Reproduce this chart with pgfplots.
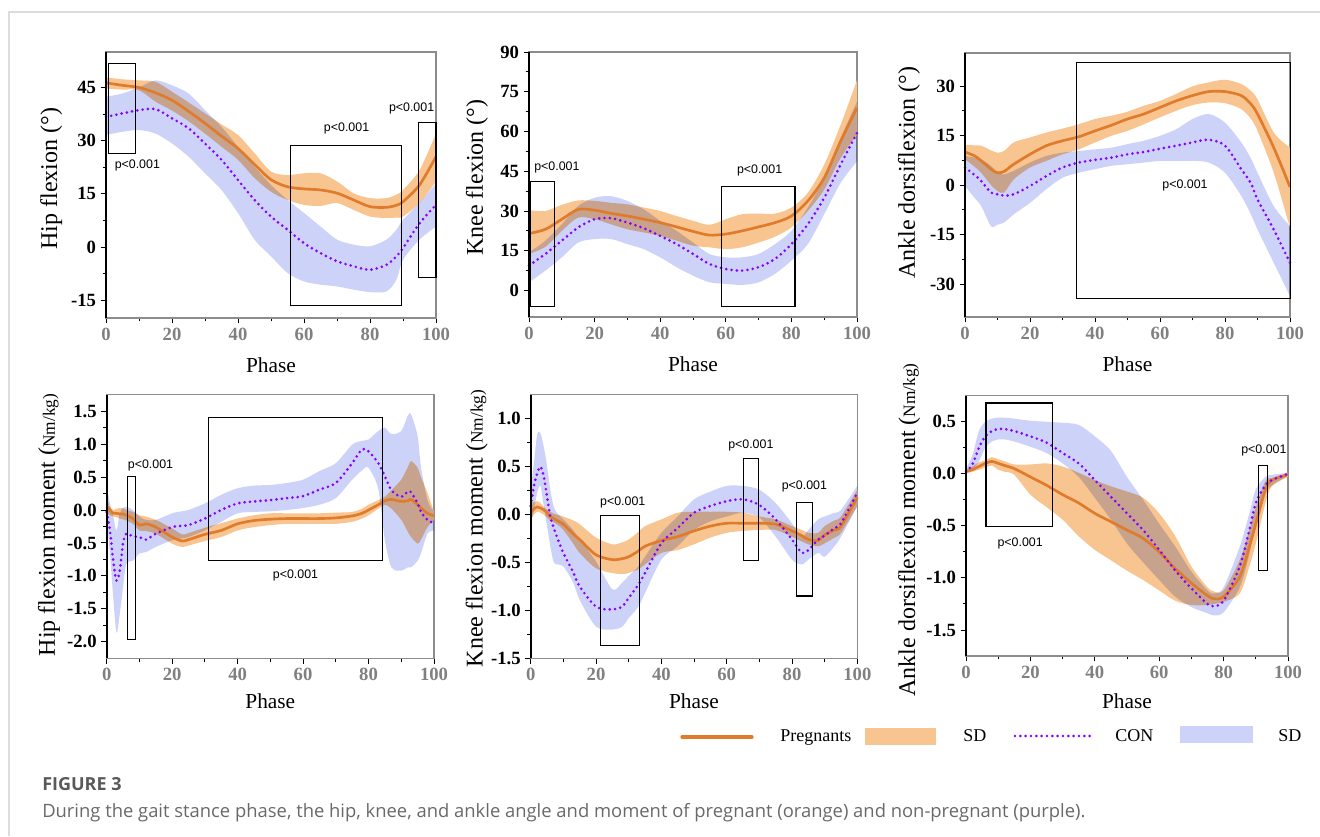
\documentclass[border=0pt]{standalone}
\usepackage{fontspec}
\setmainfont{Liberation Serif}
\newfontfamily\pfont{Liberation Sans}
\newfontfamily\capfont{Open Sans}
\usepackage{pgfplots}
\pgfplotsset{compat=1.18}
\usepackage{pgfplotstable}
\usepgfplotslibrary{fillbetween}

\definecolor{orline}{RGB}{224,123,44}
\definecolor{orband}{RGB}{248,197,145}
\definecolor{puline}{RGB}{136,0,255}
\definecolor{puband}{RGB}{205,210,249}
\definecolor{frame}{RGB}{140,140,140}
\definecolor{card}{RGB}{220,220,220}
\definecolor{captxt}{RGB}{105,105,105}

% columns: phase, pregnant mean/upper/lower, control mean/upper/lower
\pgfplotstableread{
x om ou ol pm pu pl
0 46.3 47.8 44.7 36.7 42.4 31.6
5 45.6 47.3 44.4 37.7 43.3 32.5
10 45.0 47.0 44.2 38.6 45.0 33.0
15 43.5 46.6 41.0 38.9 47.0 32.0
20 41.4 43.8 38.5 36.3 45.6 29.2
25 38.3 40.8 35.5 33.5 43.3 25.5
30 34.9 37.7 32.0 29.2 38.6 20.8
35 31.3 34.6 28.3 24.6 33.9 16.1
40 27.8 31.6 24.6 18.9 28.3 9.6
45 23.3 26.5 19.5 13.3 22.7 2.1
50 19.0 21.3 15.6 8.6 17.5 -2.6
55 17.0 20.3 13.3 4.9 13.3 -7.3
60 16.4 20.8 11.9 1.1 9.6 -9.7
65 16.1 20.8 11.6 -1.7 5.8 -10.6
70 15.2 18.5 12.4 -4.0 2.1 -11.1
75 13.3 15.2 10.5 -5.4 0.7 -12.0
80 11.4 13.8 8.6 -6.4 0.2 -12.7
85 11.2 13.8 8.2 -5.0 2.1 -12.5
88 11.8 14.8 8.3 -2.6 4.9 -9.2
90 12.8 16.1 8.6 -0.3 7.7 -3.6
95 17.5 21.7 12.4 6.7 12.4 2.1
100 25.5 32.0 18.5 11.9 18.0 5.8
}\hipang

\pgfplotstableread{
x om ou ol pm pu pl
0 21.5 30.3 13.8 9.4 14.4 3.1
5 23.1 30.0 16.5 13.8 18.8 7.5
10 26.9 32.3 22.5 18.8 25.0 12.5
15 30.6 34.0 27.5 23.8 31.9 18.1
20 30.3 33.8 26.9 26.9 35.0 19.4
25 29.1 33.1 25.0 27.3 35.6 19.4
30 28.1 32.5 23.1 25.6 33.8 17.5
35 26.9 31.3 21.9 23.5 30.6 15.6
40 25.6 30.0 20.6 20.6 26.3 12.5
45 24.0 28.1 18.8 17.5 22.5 8.8
50 22.3 26.3 16.9 13.8 18.1 5.6
55 20.9 24.8 16.3 10.0 13.8 3.1
60 21.3 26.9 15.6 8.1 12.5 2.5
65 22.5 28.8 16.3 7.5 12.5 2.1
70 24.0 29.0 18.1 8.8 13.8 3.1
75 25.6 29.0 20.3 11.9 17.5 6.3
80 28.1 31.3 23.8 17.5 22.5 11.3
85 33.8 36.9 30.0 25.0 31.3 17.5
90 42.5 47.5 38.1 35.0 42.5 28.8
95 56.3 62.5 50.0 47.5 57.5 40.6
100 69.0 79.4 58.8 59.4 71.3 48.8
}\kneeang

\pgfplotstableread{
x om ou ol pm pu pl
0 10.0 12.2 7.8 5.3 8.8 -0.3
3 8.8 12.0 5.5 3.0 8.3 -4.0
5 7.3 11.9 3.7 1.2 7.8 -6.4
8 4.8 10.5 0.0 -2.3 5.8 -12.5
10 3.7 9.8 -1.8 -2.8 3.7 -12.0
12 4.1 10.3 -2.3 -3.2 3.2 -11.4
15 6.3 12.9 1.7 -2.8 4.3 -8.9
20 9.3 14.4 5.3 -0.3 6.8 -5.4
25 11.9 15.9 7.3 2.7 8.8 -1.3
30 13.4 17.1 9.3 5.3 9.8 2.2
35 14.6 18.4 10.8 6.8 10.3 3.7
40 16.4 20.0 12.9 7.6 10.8 4.8
45 18.1 21.0 14.9 8.3 11.3 5.8
50 20.0 22.2 16.4 9.3 12.4 6.3
55 21.5 24.0 18.4 10.0 13.4 6.8
60 23.5 25.5 20.5 11.0 14.9 7.3
65 25.5 27.6 22.5 11.9 16.9 7.3
70 27.1 29.9 24.2 12.9 20.0 7.3
75 28.3 31.1 25.0 13.7 21.5 6.8
80 28.3 31.9 24.8 11.9 18.9 3.7
85 27.1 30.6 23.0 4.8 12.9 -3.3
88 24.5 28.5 20.0 0.5 8.0 -9.0
90 21.5 26.0 16.4 -4.4 3.7 -13.5
95 11.3 15.9 3.7 -13.5 -6.4 -23.6
100 -0.6 11.3 -13.0 -23.6 -12.5 -33.7
}\ankang

\pgfplotstableread{
x om ou ol pm pu pl
0 0.05 0.18 -0.05 -0.03 0.36 -0.15
1 0.00 0.05 -0.08 -0.31 0.10 -0.66
2 -0.05 0.00 -0.10 -0.77 -0.10 -1.33
3 -0.05 0.02 -0.11 -1.07 -0.31 -1.86
4 -0.06 0.03 -0.13 -0.92 -0.05 -1.58
5 -0.06 0.03 -0.14 -0.51 0.03 -1.17
6 -0.08 0.00 -0.16 -0.36 0.05 -0.82
8 -0.13 -0.03 -0.21 -0.40 0.00 -0.77
10 -0.23 -0.08 -0.31 -0.41 -0.10 -0.66
12 -0.21 -0.10 -0.32 -0.45 -0.15 -0.64
15 -0.26 -0.15 -0.36 -0.36 -0.15 -0.56
20 -0.41 -0.28 -0.51 -0.26 -0.05 -0.46
23 -0.47 -0.37 -0.56 -0.24 -0.02 -0.43
25 -0.45 -0.35 -0.54 -0.23 0.00 -0.41
30 -0.37 -0.27 -0.47 -0.13 0.10 -0.31
35 -0.31 -0.20 -0.41 0.00 0.23 -0.18
40 -0.21 -0.13 -0.31 0.10 0.33 -0.05
45 -0.16 -0.08 -0.26 0.13 0.37 -0.03
50 -0.14 -0.05 -0.23 0.15 0.38 -0.02
55 -0.13 -0.05 -0.21 0.18 0.41 0.00
60 -0.13 -0.05 -0.21 0.21 0.46 0.03
65 -0.13 -0.05 -0.21 0.31 0.59 0.08
70 -0.12 -0.04 -0.21 0.41 0.71 0.18
75 -0.09 -0.03 -0.18 0.71 0.99 0.46
78 -0.05 0.02 -0.13 0.92 1.05 0.60
80 0.00 0.08 -0.08 0.89 1.07 0.64
83 0.08 0.15 0.02 0.71 1.20 0.31
85 0.14 0.20 0.08 0.51 1.25 -0.46
87 0.16 0.30 0.02 0.30 1.15 -0.87
90 0.13 0.46 -0.15 0.20 1.20 -0.92
92 0.14 0.65 -0.33 0.28 1.43 -0.87
93 0.16 0.74 -0.41 0.27 1.45 -0.87
95 0.08 0.64 -0.51 0.10 1.12 -0.77
96 0.03 0.50 -0.45 -0.03 0.66 -0.66
98 -0.05 0.26 -0.26 -0.15 0.15 -0.36
100 -0.09 -0.03 -0.15 -0.20 -0.03 -0.31
}\hipmom

\pgfplotstableread{
x om ou ol pm pu pl
0 0.02 0.12 -0.05 0.09 0.26 -0.12
1 0.06 0.13 0.00 0.30 0.54 0.05
2 0.08 0.14 0.03 0.43 0.84 0.23
3 0.07 0.12 0.02 0.50 0.85 0.30
4 0.05 0.08 0.00 0.40 0.71 0.09
5 0.02 0.05 -0.03 0.19 0.51 -0.12
6 -0.02 0.03 -0.06 -0.02 0.26 -0.33
7 -0.04 0.01 -0.08 -0.13 0.09 -0.49
8 -0.06 0.00 -0.10 -0.23 0.02 -0.52
10 -0.10 -0.02 -0.16 -0.40 -0.05 -0.54
13 -0.20 -0.06 -0.30 -0.60 -0.16 -0.71
15 -0.26 -0.10 -0.40 -0.75 -0.26 -0.89
20 -0.42 -0.24 -0.56 -0.96 -0.49 -1.17
25 -0.47 -0.31 -0.61 -0.99 -0.78 -1.20
28 -0.46 -0.29 -0.62 -0.96 -0.71 -1.17
30 -0.44 -0.26 -0.61 -0.87 -0.64 -1.08
33 -0.38 -0.18 -0.57 -0.73 -0.54 -0.96
35 -0.33 -0.12 -0.52 -0.61 -0.44 -0.82
40 -0.27 -0.05 -0.40 -0.30 -0.19 -0.47
45 -0.23 0.02 -0.37 -0.14 -0.02 -0.33
50 -0.17 0.03 -0.31 0.02 0.16 -0.16
55 -0.12 0.03 -0.24 0.09 0.24 -0.07
60 -0.09 0.03 -0.19 0.14 0.30 -0.02
65 -0.09 0.02 -0.17 0.16 0.30 0.02
70 -0.09 -0.02 -0.16 0.10 0.26 -0.03
75 -0.10 -0.05 -0.16 -0.05 0.12 -0.23
80 -0.17 -0.12 -0.23 -0.26 -0.09 -0.47
83 -0.22 -0.16 -0.28 -0.40 -0.23 -0.52
85 -0.26 -0.19 -0.31 -0.37 -0.16 -0.47
88 -0.27 -0.19 -0.33 -0.26 -0.05 -0.40
90 -0.21 -0.12 -0.30 -0.22 -0.02 -0.44
93 -0.16 -0.06 -0.24 -0.14 0.02 -0.33
95 -0.12 -0.02 -0.19 -0.09 0.05 -0.23
100 0.18 0.26 0.09 0.23 0.30 0.09
}\kneemom

\pgfplotstableread{
x om ou ol pm pu pl
0 0.02 0.04 0.01 0.02 0.05 0.01
2 0.04 0.07 0.02 0.09 0.18 0.04
4 0.07 0.11 0.04 0.25 0.41 0.12
6 0.10 0.13 0.06 0.36 0.50 0.25
8 0.12 0.16 0.08 0.41 0.53 0.31
10 0.10 0.14 0.04 0.43 0.54 0.33
12 0.08 0.12 0.02 0.43 0.54 0.33
15 0.05 0.09 -0.01 0.41 0.53 0.31
20 -0.03 0.09 -0.20 0.36 0.51 0.26
25 -0.11 0.10 -0.32 0.30 0.50 0.20
30 -0.20 0.07 -0.44 0.20 0.49 0.10
35 -0.28 0.01 -0.60 0.10 0.47 -0.03
40 -0.38 -0.06 -0.73 -0.06 0.36 -0.23
45 -0.46 -0.12 -0.83 -0.22 0.22 -0.44
50 -0.54 -0.17 -0.93 -0.38 -0.03 -0.67
55 -0.62 -0.23 -1.02 -0.54 -0.25 -0.85
60 -0.75 -0.38 -1.12 -0.73 -0.48 -1.02
65 -0.91 -0.60 -1.22 -0.93 -0.70 -1.18
70 -1.05 -0.89 -1.26 -1.10 -0.94 -1.28
75 -1.17 -1.09 -1.26 -1.25 -1.12 -1.34
77 -1.20 -1.13 -1.25 -1.27 -1.15 -1.36
80 -1.18 -1.12 -1.23 -1.22 -1.09 -1.33
85 -0.99 -0.83 -1.15 -0.89 -0.70 -1.09
88 -0.70 -0.54 -0.89 -0.54 -0.38 -0.77
90 -0.48 -0.32 -0.67 -0.28 -0.15 -0.44
93 -0.15 -0.07 -0.28 -0.11 -0.03 -0.19
95 -0.06 -0.04 -0.12 -0.06 -0.01 -0.11
100 -0.01 0.01 -0.03 0.00 0.01 -0.02
}\ankmom

\pgfplotsset{
  panel/.style={
    scale only axis, clip=false, anchor=south west,
    xmin=0, xmax=100,
    xtick={0,20,40,60,80,100},
    xticklabels={0,20,40,60,80,100},
    minor x tick num=1, minor y tick num=1,
    tick align=outside, tick pos=left,
    major tick length=4pt, minor tick length=2.5pt,
    tick style={black, line width=0.7pt},
    axis line style={frame, line width=0.8pt},
    ticklabel style={font=\fontsize{14}{14}\selectfont\bfseries},
    xticklabel style={text=gray},
    xlabel={Phase},
    xlabel style={font=\fontsize{16}{16}\selectfont, at={(axis description cs:0.5,0)}, anchor=base},
    ylabel style={font=\fontsize{18}{18}\selectfont, anchor=base},
  },
}
\tikzset{pval/.style={font=\pfont\fontsize{9.3}{9.3}\selectfont, inner sep=0pt}}

\newcommand\drawpanel[1]{%
  \addplot[draw=none, smooth, name path=ou] table[x=x,y=ou]{#1};
  \addplot[draw=none, smooth, name path=ol] table[x=x,y=ol]{#1};
  \addplot[fill=orband, draw=none] fill between[of=ou and ol];
  \addplot[orline, line width=2pt, smooth] table[x=x,y=om]{#1};
  \addplot[draw=none, smooth, name path=pu] table[x=x,y=pu]{#1};
  \addplot[draw=none, smooth, name path=pl] table[x=x,y=pl]{#1};
  \addplot[fill=puband, draw=none, blend mode=multiply] fill between[of=pu and pl];
  \addplot[puline, line width=2.2pt, line cap=round, dash pattern=on 0pt off 4pt, smooth] table[x=x,y=pm]{#1};
  \draw[black, line width=1.6pt] (rel axis cs:0,0) -- (rel axis cs:0,1);
}
\newcommand\nm{{\fontsize{13}{13}\selectfont Nm/kg)}}

\begin{document}
\begin{tikzpicture}[x=0.75pt, y=0.75pt]
\draw[card, line width=1.1pt] (9,0) -- (9,824) -- (1320,824);

% ---- top row: angles
\begin{axis}[panel, at={(79.5pt,388.5pt)}, width=247.5pt, height=199.5pt,
  ymin=-20, ymax=55, ytick={-15,0,15,30,45}, yticklabels={-15,0,15,30,45},
  ylabel={Hip flexion (°)},
  ylabel style={at={(axis description cs:-0.148,0.524)}},
  xlabel style={yshift=-41.25pt}]
\drawpanel{\hipang}
\draw[line width=0.8pt] (axis cs:0.8,51.7) rectangle (axis cs:8.9,26.4);
\node[pval] at (axis cs:9.5,22.9) {p<0.001};
\draw[line width=0.8pt] (axis cs:56,28.6) rectangle (axis cs:89.6,-16.4);
\node[pval] at (axis cs:72.9,33.5) {p<0.001};
\draw[line width=0.8pt] (axis cs:94.7,35.1) rectangle (axis cs:100,-8.5);
\node[pval] at (axis cs:92.6,39.1) {p<0.001};
\end{axis}

\begin{axis}[panel, at={(396.75pt,389.25pt)}, width=246pt, height=198.75pt,
  ymin=-10, ymax=90, ytick={0,15,30,45,60,75,90}, yticklabels={0,15,30,45,60,75,90},
  ylabel={Knee flexion (°)},
  ylabel style={at={(axis description cs:-0.141,0.526)}},
  xlabel style={yshift=-41.25pt}]
\drawpanel{\kneeang}
\draw[line width=0.8pt] (axis cs:0.5,41.3) rectangle (axis cs:7.9,-5.9);
\node[pval] at (axis cs:8.5,46.3) {p<0.001};
\draw[line width=0.8pt] (axis cs:58.6,39.4) rectangle (axis cs:81.1,-5.9);
\node[pval] at (axis cs:70.3,45.3) {p<0.001};
\end{axis}

\begin{axis}[panel, at={(723.75pt,389.25pt)}, width=243.75pt, height=198pt,
  ymin=-40, ymax=40, ytick={-30,-15,0,15,30}, yticklabels={-30,-15,0,15,30},
  ylabel={Ankle dorsiflexion (°)},
  ylabel style={at={(axis description cs:-0.154,0.547)}},
  xlabel style={yshift=-41.25pt}]
\drawpanel{\ankang}
\draw[line width=0.8pt] (axis cs:34.4,37) rectangle (axis cs:100.2,-34.5);
\node[pval] at (axis cs:67.7,0) {p<0.001};
\end{axis}

% ---- bottom row: moments
\begin{axis}[panel, at={(80pt,133.3pt)}, width=245.5pt, height=197.7pt,
  ymin=-2.25, ymax=1.75, ytick={-2,-1.5,-1,-0.5,0,0.5,1,1.5},
  yticklabels={-2.0,-1.5,-1.0,-0.5,0.0,0.5,1.0,1.5},
  ylabel={Hip flexion moment (\nm},
  ylabel style={at={(axis description cs:-0.158,0.506)}},
  xlabel style={yshift=-37.5pt}]
\drawpanel{\hipmom}
\draw[line width=0.8pt] (axis cs:6.3,0.51) rectangle (axis cs:8.8,-1.96);
\node[pval] at (axis cs:13.4,0.67) {p<0.001};
\draw[line width=0.8pt] (axis cs:31.2,1.41) rectangle (axis cs:84.2,-0.77);
\node[pval] at (axis cs:57.7,-0.99) {p<0.001};
\end{axis}

\begin{axis}[panel, at={(398pt,133.3pt)}, width=245pt, height=197.5pt,
  ymin=-1.5, ymax=1.25, ytick={-1.5,-1,-0.5,0,0.5,1},
  yticklabels={-1.5,-1.0,-0.5,0.0,0.5,1.0},
  ylabel={Knee flexion moment (\nm},
  ylabel style={at={(axis description cs:-0.147,0.493)}},
  xlabel style={yshift=-37.5pt}]
\drawpanel{\kneemom}
\draw[line width=0.8pt] (axis cs:21.5,-0.01) rectangle (axis cs:33.2,-1.37);
\node[pval] at (axis cs:28.2,0.13) {p<0.001};
\draw[line width=0.8pt] (axis cs:65.2,0.59) rectangle (axis cs:69.7,-0.48);
\node[pval] at (axis cs:67.4,0.72) {p<0.001};
\draw[line width=0.8pt] (axis cs:81.3,0.13) rectangle (axis cs:86.2,-0.85);
\node[pval] at (axis cs:83.8,0.29) {p<0.001};
\end{axis}

\begin{axis}[panel, at={(724.5pt,135pt)}, width=241.5pt, height=195.2pt,
  ymin=-1.75, ymax=0.75, ytick={-1.5,-1,-0.5,0,0.5},
  yticklabels={-1.5,-1.0,-0.5,0.0,0.5},
  ylabel={Ankle dorsiflexion moment (\nm},
  ylabel style={at={(axis description cs:-0.158,0.484)}},
  xlabel style={yshift=-39pt}]
\drawpanel{\ankmom}
\draw[line width=0.8pt] (axis cs:6.2,0.68) rectangle (axis cs:26.9,-0.51);
\node[pval] at (axis cs:16.8,-0.67) {p<0.001};
\draw[line width=0.8pt] (axis cs:90.8,0.08) rectangle (axis cs:93.6,-0.93);
\node[pval] at (axis cs:92.5,0.22) {p<0.001};
\end{axis}

% ---- legend
\begin{scope}[every node/.style={font=\fontsize{13.5}{13.5}\selectfont, inner sep=0pt}]
\draw[orline, line width=2.5pt, line cap=round] (682,99) -- (752,99);
\node[anchor=base west] at (780,94.3) {Pregnants};
\fill[orband] (865,91) rectangle (936,108);
\node[anchor=base west] at (963,94.3) {SD};
\draw[puline, line width=2.2pt, line cap=round, dash pattern=on 0pt off 4pt] (1015,100) -- (1090,100);
\node[anchor=base west] at (1115,94.3) {CON};
\fill[puband] (1180,93) rectangle (1253,110);
\node[anchor=base west] at (1278,94.3) {SD};
\end{scope}

% ---- caption
\node[anchor=base west, inner sep=0pt, text=captxt!85!black, font=\capfont\bfseries\fontsize{13.5}{13.5}\selectfont] at (42,46) {FIGURE 3};
\node[anchor=base west, inner sep=0pt, text=captxt, font=\capfont\fontsize{13.8}{13.8}\selectfont] at (42,19) {During the gait stance phase, the hip, knee, and ankle angle and moment of pregnant (orange) and non-pregnant (purple).};

\pgfresetboundingbox
\path (0,0) rectangle (1320,836);
\end{tikzpicture}
\end{document}
